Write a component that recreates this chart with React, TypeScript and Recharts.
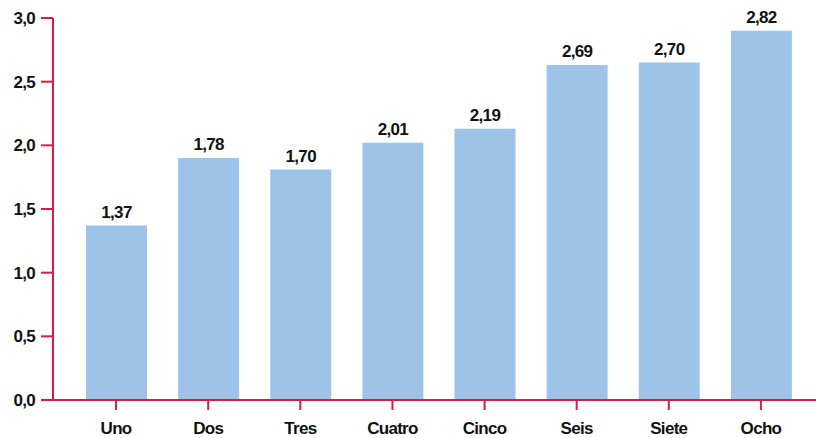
import { BarChart, Bar, XAxis, YAxis, LabelList } from 'recharts';

// categorías y valores
const categorias = ['Uno', 'Dos', 'Tres', 'Cuatro', 'Cinco', 'Seis', 'Siete', 'Ocho'];
const alturas = [1.37, 1.9, 1.81, 2.02, 2.13, 2.63, 2.65, 2.9];
const etiquetas = ['1,37', '1,78', '1,70', '2,01', '2,19', '2,69', '2,70', '2,82'];
const ticksY = [0, 0.5, 1, 1.5, 2, 2.5, 3];

const ROJO = '#D31E44';
const AZUL = '#9DC3E8';
const FUENTE = '"Liberation Sans Narrow", "Arial Narrow", "Liberation Sans", sans-serif';

const texto = { fill: '#111', fontSize: 17, fontWeight: 700, fontFamily: FUENTE, letterSpacing: -0.7 };

const data = categorias.map((cat, i) => ({
  cat,
  valor: alturas[i],
  etiqueta: etiquetas[i],
}));

export default function App() {
  return (
    <div style={{ position: 'absolute', left: 0, top: 0, width: 816, height: 438, background: '#fff' }}>
      <BarChart
        width={816}
        height={438}
        data={data}
        margin={{ top: 18, right: 0, bottom: 0, left: 0 }}
        style={{ fontFamily: FUENTE }}
      >
        <XAxis
          dataKey="cat"
          height={38}
          padding={{ left: 17, right: 9 }}
          axisLine={{ stroke: ROJO, strokeWidth: 2 }}
          tickLine={{ stroke: ROJO, strokeWidth: 2 }}
          tickSize={10}
          tickMargin={12}
          tick={texto}
        />
        <YAxis
          width={53}
          domain={[0, 3]}
          ticks={ticksY}
          tickFormatter={(v: number) => v.toFixed(1).replace('.', ',')}
          axisLine={{ stroke: ROJO, strokeWidth: 2 }}
          tickLine={{ stroke: ROJO, strokeWidth: 2 }}
          tickSize={12}
          tickMargin={6}
          tick={texto}
        />
        <Bar dataKey="valor" fill={AZUL} barSize={61} isAnimationActive={false}>
          <LabelList dataKey="etiqueta" position="top" offset={8} style={texto} />
        </Bar>
      </BarChart>
    </div>
  );
}
